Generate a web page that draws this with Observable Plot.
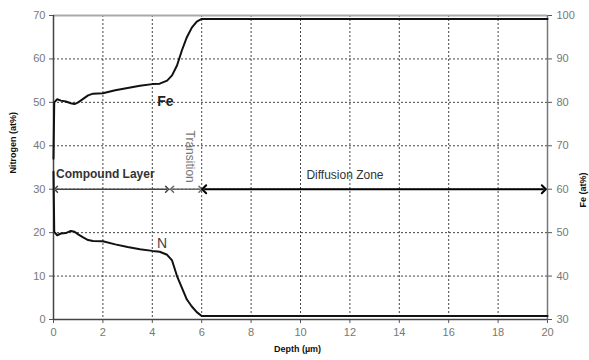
<!DOCTYPE html>
<html>
<head>
<meta charset="utf-8">
<script src="https://cdn.jsdelivr.net/npm/d3@7"></script>
<script src="https://cdn.jsdelivr.net/npm/@observablehq/plot@0.6"></script>
<style>
  html, body { margin: 0; padding: 0; background: #fff; }
  #chart svg { display: block; }
</style>
</head>
<body>
<div id="chart"></div>
<script>
// Depth profile data (µm)
const depth = [0, 0.03, 0.15, 0.3, 0.5, 0.7, 0.85, 1.0, 1.2, 1.4, 1.6, 2.0, 2.5, 3.0, 3.5, 4.0, 4.3, 4.6, 4.8, 5.0, 5.2, 5.4, 5.6, 5.8, 6.0, 20];
// Nitrogen (at%) – left axis
const nitrogen = [34, 20.2, 19.4, 19.8, 19.9, 20.4, 20.2, 19.6, 18.9, 18.3, 18.1, 18.0, 17.3, 16.7, 16.2, 15.8, 15.6, 14.9, 13.6, 10.0, 7.3, 4.6, 3.0, 1.7, 0.8, 0.8];
// Iron (at%) – right axis (30–100)
const iron = [67, 80, 80.7, 80.4, 80.2, 79.8, 79.6, 80, 80.8, 81.6, 82, 82.1, 82.8, 83.3, 83.8, 84.2, 84.3, 85, 86.2, 88.5, 92, 95, 97.2, 98.6, 99.2, 99.2];

const xTicks = [0, 2, 4, 6, 8, 10, 12, 14, 16, 18, 20];
const nTicks = [0, 10, 20, 30, 40, 50, 60, 70];
const feOffset = 30; // right axis: Fe = N-scale value + 30

// Zone annotations (depth ranges at the 30 at% level)
const zones = [
  {name: "Compound Layer", x1: 0.1, x2: 4.6, y: 30, color: "#444"},
  {name: "Transition", x1: 4.8, x2: 5.95, y: 30, color: "#666"},
  {name: "Diffusion Zone", x1: 6.1, x2: 19.85, y: 30, color: "#000"}
];

const nData = depth.map((d, i) => ({depth: d, v: nitrogen[i]}));
const feData = depth.map((d, i) => ({depth: d, v: iron[i]}));

const font = "Liberation Sans, Arial, sans-serif";

const chart = Plot.plot({
  width: 589,
  height: 360,
  marginTop: 15,
  marginBottom: 41,
  marginLeft: 53,
  marginRight: 42,
  style: {fontFamily: font, fontSize: "11px", background: "#fff"},
  x: {domain: [0, 20]},
  y: {domain: [0, 70]},
  marks: [
    Plot.gridX(xTicks.slice(1, -1), {stroke: "#444", strokeOpacity: 1, strokeWidth: 1, strokeDasharray: "2,2"}),
    Plot.gridY(nTicks.slice(1, -1), {stroke: "#444", strokeOpacity: 1, strokeWidth: 1, strokeDasharray: "2,2"}),
    Plot.ruleY([70], {stroke: "#aaa", strokeWidth: 2}),
    Plot.ruleX([20], {stroke: "#777", strokeWidth: 1.5}),
    Plot.axisX({ticks: xTicks, tickSize: 4, tickPadding: 5, label: null, color: "#777", stroke: "#555"}),
    Plot.axisY({anchor: "left", ticks: nTicks, tickSize: 4, tickPadding: 4, label: null, color: "#777", stroke: "#555"}),
    Plot.axisY({anchor: "right", ticks: nTicks, tickSize: 4, tickPadding: 5, label: null, color: "#777", stroke: "#555",
      tickFormat: d => d + feOffset}),
    Plot.ruleX([0], {stroke: "#444", strokeWidth: 1.5}),
    Plot.ruleY([0], {stroke: "#444", strokeWidth: 1.5}),
    Plot.line(nData, {x: "depth", y: "v", stroke: "#111", strokeWidth: 2}),
    Plot.line(feData, {x: "depth", y: d => d.v - feOffset, stroke: "#111", strokeWidth: 2}),
    Plot.link(zones, {x1: "x1", x2: "x2", y1: "y", y2: "y", stroke: "color",
      strokeWidth: d => d.name === "Diffusion Zone" ? 2 : 1.5,
      markerStart: "arrow-reverse", markerEnd: "arrow"}),
    Plot.text([zones[0]], {x: 0.1, y: 33.5, text: "name", textAnchor: "start", fill: "#333", fontWeight: "bold", fontSize: 12}),
    Plot.text([zones[1]], {x: 5.5, y: 37.5, text: "name", rotate: 90, fill: "#777", fontSize: 12}),
    Plot.text([zones[2]], {x: 11.8, y: 33.2, text: "name", fill: "#333", fontSize: 12}),
    Plot.text(["Fe"], {x: 4.2, y: 50.2, text: d => d, textAnchor: "start", fill: "#222", fontWeight: "bold", fontSize: 14}),
    Plot.text(["N"], {x: 4.4, y: 17.6, text: d => d, textAnchor: "middle", fill: "#444", fontSize: 14}),
    Plot.text(["Nitrogen (at%)"], {frameAnchor: "left", dx: -40, dy: 6, rotate: -90, text: d => d, fill: "#111", fontWeight: "bold", fontSize: 9}),
    Plot.text(["Fe (at%)"], {frameAnchor: "right", dx: 36, dy: 5, rotate: -90, text: d => d, fill: "#111", fontWeight: "bold", fontSize: 9}),
    Plot.text(["Depth (µm)"], {frameAnchor: "bottom", dy: 32, dx: -3, text: d => d, fill: "#111", fontWeight: "bold", fontSize: 9})
  ]
});

document.getElementById("chart").appendChild(chart);
</script>
</body>
</html>
